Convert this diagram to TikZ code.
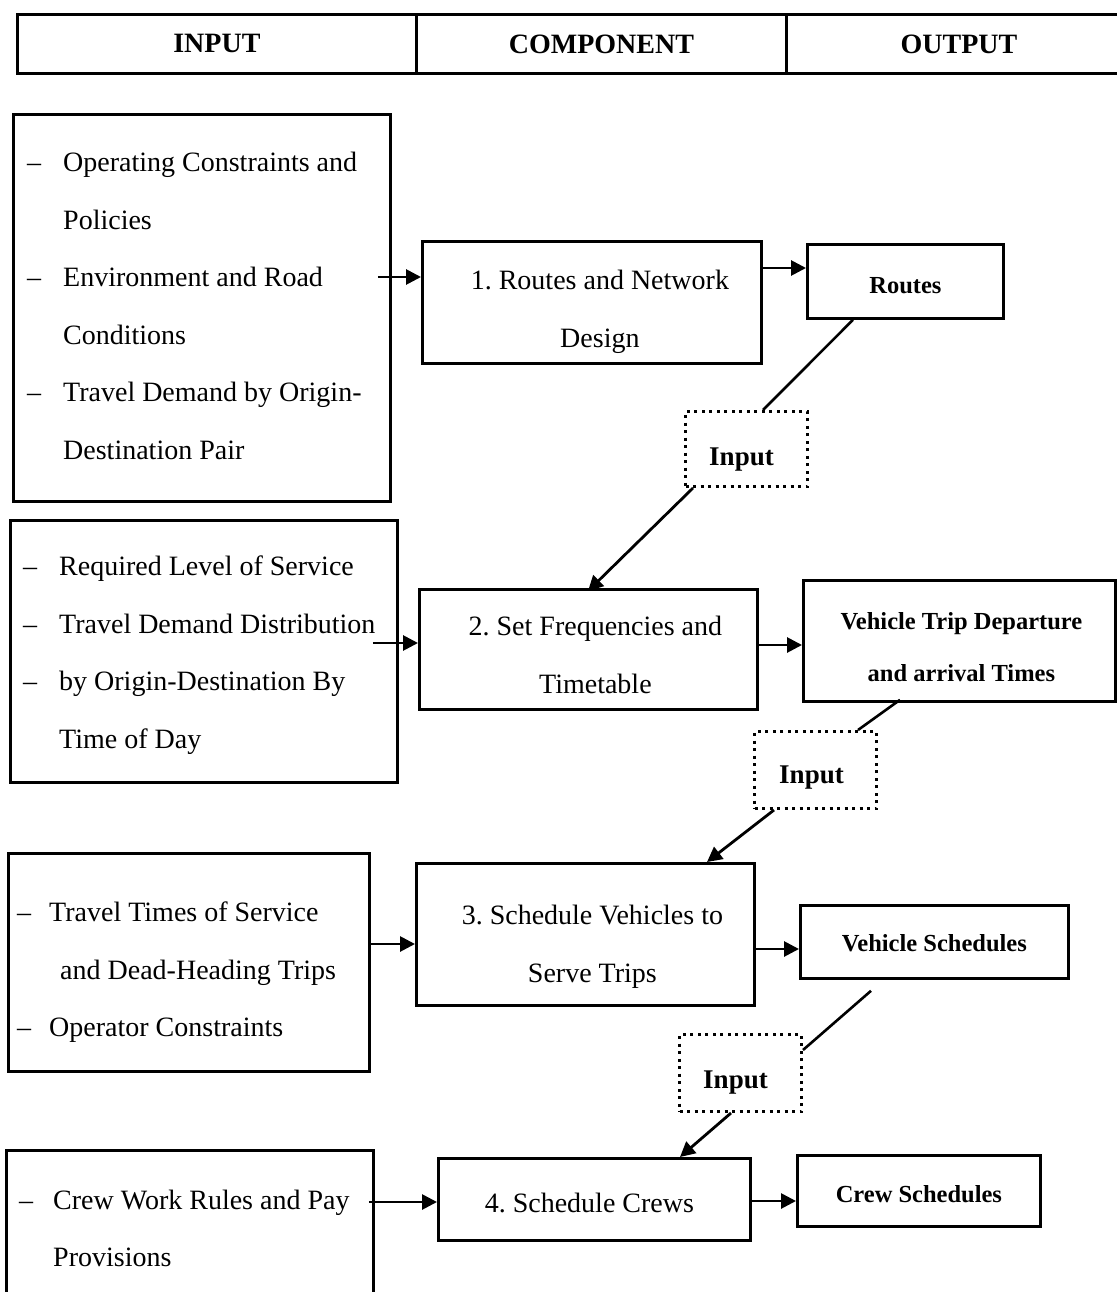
\documentclass[tikz,border=0pt]{standalone}
\usepackage{fontspec}
\setmainfont{Liberation Serif}
\usetikzlibrary{arrows.meta,calc}

% dash that opens a list entry, and the indent of its continuation lines
\newcommand{\entrydash}[1][36pt]{\makebox[#1][l]{\textendash}}
\newcommand{\entrycont}[1][36pt]{\hspace*{#1}}

\begin{document}
\frenchspacing
\begin{tikzpicture}[x=1pt,y=-1pt,
  box/.style={draw, line width=2.8pt, rectangle, anchor=north west, inner sep=0pt},
  headbox/.style={box, font=\bfseries\fontsize{28}{32}\selectfont},
  inbox/.style={draw, line width=3pt, dash pattern=on 3pt off 4.5pt, rectangle,
                anchor=north west, inner sep=0pt},
  listtext/.style={anchor=west, align=left, inner sep=0pt, font=\fontsize{28}{57.5}\selectfont},
  comptext/.style={align=center, inner sep=0pt, font=\fontsize{28}{58}\selectfont},
  outtext/.style={align=center, inner sep=0pt, font=\bfseries\fontsize{24.5}{52}\selectfont},
  intext/.style={inner sep=0pt, font=\bfseries\fontsize{27}{32}\selectfont},
  arr/.style={line width=2.8pt, -{Triangle[length=15pt,width=15pt]}},
  link/.style={line width=2.6pt},
]
\useasboundingbox (0,0) rectangle (1116,1292);

% column headings
\node[headbox, minimum width=399pt, minimum height=59pt] (hin)   at (16,13)  {INPUT};
\node[headbox, minimum width=370pt, minimum height=59pt] (hcomp) at (415,13) {COMPONENT};
\node[headbox, minimum width=345pt, minimum height=59pt] (hout)  at (785,13) {OUTPUT};

% frames
\node[box, minimum width=377pt, minimum height=387pt] (a1) at (12,113) {};
\node[box, minimum width=339pt, minimum height=122pt] (c1) at (421,240) {};
\node[box, minimum width=196pt, minimum height=74pt]  (r1) at (806,243) {};
\node[inbox, minimum width=122pt, minimum height=75pt] (i1) at (684,410) {};

\node[box, minimum width=387pt, minimum height=262pt] (a2) at (9,519) {};
\node[box, minimum width=338pt, minimum height=120pt] (c2) at (418,588) {};
\node[box, minimum width=312pt, minimum height=121pt] (o2) at (802,579) {};
\node[inbox, minimum width=122pt, minimum height=77pt] (i2) at (753,730) {};

\node[box, minimum width=361pt, minimum height=218pt] (a3) at (7,852) {};
\node[box, minimum width=338pt, minimum height=142pt] (c3) at (415,862) {};
\node[box, minimum width=268pt, minimum height=73pt]  (o3) at (799,904) {};
\node[inbox, minimum width=122pt, minimum height=77pt] (i3) at (678,1033) {};

\node[box, minimum width=367pt, minimum height=160pt] (a4) at (5,1149) {};
\node[box, minimum width=312pt, minimum height=82pt]  (c4) at (437,1157) {};
\node[box, minimum width=243pt, minimum height=71pt]  (o4) at (796,1154) {};

% texts of the input lists
\node[listtext] (a1t) at ([shift={(15,-2)}]a1.west)
  {\entrydash Operating Constraints and\\
   \entrycont Policies\\
   \entrydash Environment and Road\\
   \entrycont Conditions\\
   \entrydash Travel Demand by Origin-\\
   \entrycont Destination Pair};
\node[listtext] (a2t) at ([shift={(14,4)}]a2.west)
  {\entrydash Required Level of Service\\
   \entrydash Travel Demand Distribution\\
   \entrydash by Origin-Destination By\\
   \entrycont Time of Day};
\node[listtext] (a3t) at ([shift={(10,10)}]a3.west)
  {\entrydash[32pt]Travel Times of Service\\
   \entrycont[43pt]and Dead-Heading Trips\\
   \entrydash[32pt]Operator Constraints};
\node[listtext] (a4t) at ([shift={(14,-2)}]a4.west)
  {\entrydash[34pt]Crew Work Rules and Pay\\
   \entrycont[34pt]Provisions};

% texts of the components
\node[comptext] (c1t) at ([shift={(8,9)}]c1.center)  {1. Routes and Network\\ Design};
\node[comptext] (c2t) at ([shift={(7,6)}]c2.center)  {2. Set Frequencies and\\ Timetable};
\node[comptext] (c3t) at ([shift={(7,12)}]c3.center) {3. Schedule Vehicles to\\ Serve Trips};
\node[comptext] (c4t) at ([shift={(-5,4)}]c4.center) {4. Schedule Crews};

% texts of the outputs
\node[outtext] (r1t) at ([shift={(0,4)}]r1.center) {Routes};
\node[outtext] (o2t) at ([shift={(2,6)}]o2.center) {Vehicle Trip Departure\\ and arrival Times};
\node[outtext] (o3t) at ([shift={(0,1)}]o3.center) {Vehicle Schedules};
\node[outtext] (o4t) at ([shift={(0,3)}]o4.center) {Crew Schedules};

% labels of the hand-over boxes
\node[intext] (i1t) at ([shift={(-5,11)}]i1.center) {Input};
\node[intext] (i2t) at ([shift={(-4,8)}]i2.center)  {Input};
\node[intext] (i3t) at ([shift={(-5,10)}]i3.center) {Input};

% inputs into the components
\draw[arr] ([shift={(-14,164)}]a1.north east) -- ([shift={(0,37)}]c1.north west);
\draw[arr] ([shift={(-26,124)}]a2.north east) -- ([shift={(0,55)}]c2.north west);
\draw[arr] ([shift={(0,92)}]a3.north east)    -- ([shift={(0,82)}]c3.north west);
\draw[arr] ([shift={(-6,53)}]a4.north east)   -- ([shift={(0,45)}]c4.north west);

% components to their outputs
\draw[arr] ([shift={(0,28)}]c1.north east) -- ([shift={(0,25)}]r1.north west);
\draw[arr] ([shift={(0,57)}]c2.north east) -- ([shift={(0,66)}]o2.north west);
\draw[arr] ([shift={(0,87)}]c3.north east) -- ([shift={(0,45)}]o3.north west);
\draw[arr] ([shift={(0,44)}]c4.north east) -- ([shift={(0,47)}]o4.north west);

% each output feeds the next component
\draw[link] ([shift={(47,0)}]r1.south west) -- ([shift={(79,0)}]i1.north west);
\draw[arr]  ([shift={(9,0)}]i1.south west)  -- ([shift={(170,3)}]c2.north west);
\draw[link] ([shift={(98,-3)}]o2.south west) -- ([shift={(105,0)}]i2.north west);
\draw[arr]  ([shift={(21,0)}]i2.south west) -- ([shift={(292,0)}]c3.north west);
\draw[link] ([shift={(72,11)}]o3.south west) -- ([shift={(0,17)}]i3.north east);
\draw[arr]  ([shift={(53,0)}]i3.south west) -- ([shift={(243,0)}]c4.north west);
\end{tikzpicture}
\end{document}
